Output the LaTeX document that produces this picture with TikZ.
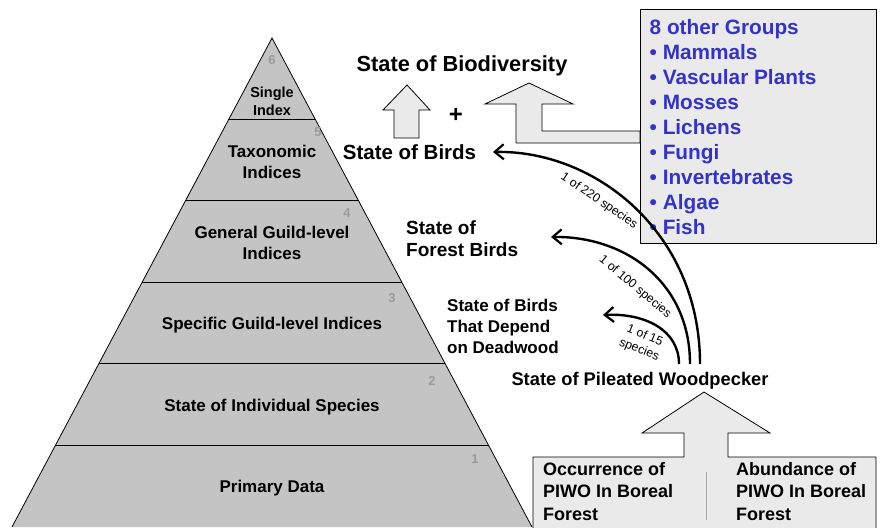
\documentclass[tikz,border=0pt]{standalone}
\usepackage{fontspec}
\setmainfont{Liberation Sans}
\usetikzlibrary{calc,arrows.meta}
\definecolor{pyrgray}{HTML}{C4C4C4}
\definecolor{lightgray}{HTML}{EAEAEA}
\definecolor{numgray}{HTML}{9A9A9A}
\definecolor{grpblue}{HTML}{3333CC}
\newcommand{\fs}[2]{\fontsize{#1}{#2}\selectfont}
\tikzset{
  lvltext/.style={font=\fs{17}{20.5}\bfseries, align=center, inner sep=0pt},
  lvlnum/.style={font=\fs{13}{15}\bfseries, text=numgray, inner sep=0pt},
  bigtext/.style={font=\fs{20.5}{24}\bfseries, inner sep=0pt},
  midtext/.style={font=\fs{18.5}{22}\bfseries, inner sep=0pt, align=left},
  smalllabel/.style={font=\fs{12.3}{15}, inner sep=0pt, align=center},
  blockarrow/.style={fill=lightgray, draw=black, line width=0.8pt, line join=miter},
  curvearrow/.style={line width=2.4pt, -{Straight Barb[length=9pt,width=15pt,line width=2.2pt]}},
}
\begin{document}
\begin{tikzpicture}[x=1pt,y=-1pt]
\useasboundingbox (0,0) rectangle (880,527);
% pyramid
\coordinate (apex) at (272,38);
\coordinate (bl) at (12,527);
\coordinate (br) at (532,527);
\fill[pyrgray] (apex) -- (br) -- (bl) -- cycle;
\foreach \k in {1,...,5}{
  \draw[line width=1pt] ($(apex)!\k/6!(bl)$) -- ($(apex)!\k/6!(br)$);
}
\draw[line width=0.8pt] (bl) -- (apex) -- (br);
% level texts
\node[lvltext, font=\fs{14.5}{18}\bfseries] (l6) at (272,101) {Single\\Index};
\node[lvltext] (l5) at (272,162) {Taxonomic\\Indices};
\node[lvltext] (l4) at (272,243) {General Guild-level\\Indices};
\node[lvltext] (l3) at (272,325) {Specific Guild-level Indices};
\node[lvltext] (l2) at (272,407) {State of Individual Species};
\node[lvltext] (l1) at (272,488) {Primary Data};
\node[lvlnum] (n6) at (272,60) {6};
\node[lvlnum] (n5) at (318,132) {5};
\node[lvlnum] (n4) at (347,213) {4};
\node[lvlnum] (n3) at (392,298) {3};
\node[lvlnum] (n2) at (432,381) {2};
\node[lvlnum] (n1) at (475,459) {1};
% top right
\node[bigtext, font=\fs{21.8}{24}\bfseries] (biodiv) at (462,66) {State of Biodiversity};
\node[bigtext] (birds) at (409.5,152) {State of Birds};
\node[font=\fs{24}{26}\bfseries, inner sep=0pt] (plus) at (456,115) {+};
\draw[blockarrow] (407,85) -- (430,110) -- (419,110) -- (419,138) -- (394,138) -- (394,110) -- (383,110) -- cycle;
% groups box
\draw[fill=lightgray, draw=black, line width=0.8pt] (640,9) rectangle (876,243);
\draw[blockarrow] (529,83) -- (573,104) -- (542,104) -- (542,131) -- (640,131) -- (640,143) -- (516,143) -- (516,104) -- (485,104) -- cycle;
\node[anchor=north west, align=left, inner sep=0pt, text=grpblue, font=\fs{20.8}{25}\bfseries] (groups) at (649.5,19) {8 other Groups\\• Mammals\\• Vascular Plants\\• Mosses\\• Lichens\\• Fungi\\• Invertebrates\\• Algae\\• Fish};
% middle texts
\node[midtext, anchor=west, font=\fs{19}{22}\bfseries] (forest) at (406,239) {State of\\Forest Birds};
\node[midtext, anchor=west, font=\fs{17}{21}\bfseries] (dead) at (447,326) {State of Birds\\That Depend\\on Deadwood};
\node[midtext, font=\fs{18.3}{22}\bfseries] (piwo) at (640,381) {State of Pileated Woodpecker};
% curves
\coordinate (s1) at (679,364);
\coordinate (s2) at (690,364);
\coordinate (s3) at (700,364);
\coordinate (e1) at (603,315);
\coordinate (e2) at (551,237);
\coordinate (e3) at (493,152);
\draw[curvearrow] (s3) .. controls (700,232) and (595,150) .. (e3);
\draw[curvearrow] (s2) .. controls (690,282) and (625,236) .. (e2);
\draw[curvearrow] (s1) .. controls (679,330) and (645,313) .. (e1);
\node[smalllabel, rotate=-34] (lab220) at (599,201) {1 of 220 species};
\node[smalllabel, rotate=-40] (lab100) at (635,287) {1 of 100 species};
\node[smalllabel, rotate=-22] (lab15) at (642,343) {1 of 15\\species};
% bottom box with arrow
\draw[blockarrow] (533,535) -- (533,457) -- (684,457) -- (684,433) -- (642,433) -- (704,392) -- (770,433) -- (728,433) -- (728,457) -- (876,457) -- (876,535);
\draw[line width=1pt, draw=gray!70] (706,472) -- (706,520);
\node[midtext, anchor=north west, font=\fs{18}{22.5}\bfseries] (occ) at (543,462) {Occurrence of\\PIWO In Boreal\\Forest};
\node[midtext, anchor=north west, font=\fs{18}{22.5}\bfseries] (abund) at (736,462) {Abundance of\\PIWO In Boreal\\Forest};
\end{tikzpicture}
\end{document}
